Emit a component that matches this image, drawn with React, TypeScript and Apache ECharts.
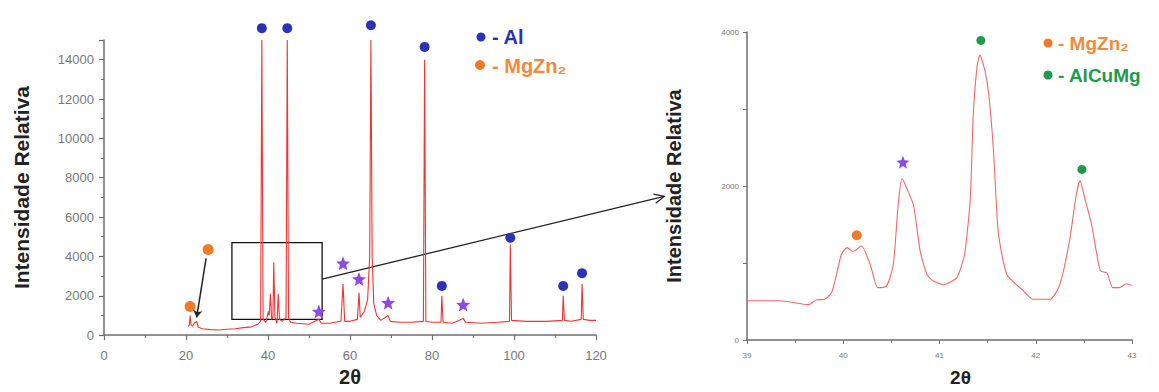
import React, { useEffect, useRef } from "react";
import * as echarts from "echarts";

// ---- Full pattern (left) ----
const leftTheta = [
  20.5, 20.8, 21.0, 21.2, 21.6, 22.0, 22.6, 23.0, 24, 26, 28, 30, 32, 34, 36, 37.5, 38.2, 38.5, 38.8,
  39.5, 40.1, 40.3, 40.6, 40.9, 41.2, 41.4, 41.7, 42.2, 42.5, 42.8, 43.5, 44.4, 44.7, 45.0, 45.5,
  47, 50, 52.4, 53, 55, 57.8, 58.3, 58.7, 60, 61.8, 62.2, 62.5, 63.5, 64.3, 64.8, 65.1, 65.4, 65.8,
  66.5, 67.5, 69.3, 69.8, 72, 75, 77.9, 78.2, 78.5, 80, 82.2, 82.4, 82.7, 85, 87.6, 88.2, 92, 96,
  98.9, 99.1, 99.4, 103, 108, 111.8, 112.0, 112.3, 114, 116.4, 116.6, 116.9, 118.5, 120,
];
const leftIntensity = [
  450, 500, 1000, 550, 450, 600, 700, 400, 320, 280, 260, 300, 320, 380, 420, 550, 700, 15000, 800,
  650, 1200, 1000, 2100, 800, 900, 3700, 900, 600, 2100, 800, 700, 900, 15000, 900, 650,
  600, 550, 800, 600, 600, 700, 2600, 700, 700, 800, 2150, 900, 1200, 1800, 4000, 15000, 4000, 1600,
  1000, 750, 1000, 700, 650, 650, 700, 14000, 700, 650, 650, 2000, 650, 600, 850, 650, 600, 650,
  700, 4600, 750, 700, 700, 750, 2000, 750, 700, 800, 2600, 800, 750, 750,
];

const alTheta = [38.5, 44.7, 65.1, 78.2, 82.4, 99.1, 112.0, 116.6];
const alMarkY = [15600, 15600, 15750, 14650, 2500, 4950, 2500, 3150];
const mgTheta = [21.0, 25.4];
const mgMarkY = [1450, 4350];
const starTheta = [52.4, 58.3, 62.2, 69.3, 87.6];
const starMarkY = [1200, 3650, 2850, 1650, 1550];

const boxTheta = [31.2, 53.2];
const boxIntensity = [4700, 800];
const arrowStart = [53.2, 2850]; // on left grid
const arrowEnd = [38.14, 1865]; // in right grid coordinates
const smallArrowFrom = [24.9, 3900];
const smallArrowTo = [22.6, 900];

// ---- Zoomed pattern (right) ----
const zoomTheta = [
  39.0, 39.34, 39.64, 39.72, 39.81, 39.88, 39.93, 39.98, 40.04, 40.10, 40.19, 40.28, 40.36, 40.45,
  40.52, 40.57, 40.61, 40.66, 40.73, 40.80, 40.87, 40.93, 41.04, 41.18, 41.26, 41.32, 41.35, 41.39,
  41.42, 41.47, 41.51, 41.56, 41.61, 41.70, 41.87, 41.97, 42.15, 42.25, 42.35, 42.42, 42.46, 42.51,
  42.58, 42.67, 42.74, 42.80, 42.87, 42.94, 43.0,
];
const zoomIntensity = [
  510, 510, 460, 520, 530, 620, 850, 1110, 1200, 1150, 1220, 980, 680, 700,
  980, 1750, 2100, 1970, 1750, 1150, 850, 770, 720, 810, 1110, 1840, 2910, 3550,
  3700, 3510, 3210, 2480, 1410, 850, 640, 530, 530, 720, 1280, 1880, 2070, 1840,
  1500, 900, 870, 680, 680, 730, 710,
];
const zoomMgTheta = [40.14];
const zoomMgY = [1360];
const zoomStarTheta = [40.62];
const zoomStarY = [2310];
const zoomGreenTheta = [41.43, 42.48];
const zoomGreenY = [3890, 2215];

const yTitle = "Intensidade Relativa";
const xTitle = "2θ";

const STAR =
  "path://M12,1 L14.9,8.6 L23,9.2 L16.8,14.3 L18.8,22.2 L12,17.8 L5.2,22.2 L7.2,14.3 L1,9.2 L9.1,8.6 Z";

const zip = (a: number[], b: number[]) => a.map((v, i) => [v, b[i]]);

const axisColor = "#6e6e6e";
const FONT = "Liberation Sans";
const BLUE = "#2b32b8";
const ORANGE = "#f07a26";
const GREEN = "#1f9a4c";
const PURPLE = "#8a4be6";

export default function App() {
  const ref = useRef<HTMLDivElement>(null);
  useEffect(() => {
    document.body.style.margin = "0";
    const chart = echarts.init(ref.current!, null, { renderer: "svg" });
    const baseAxis = {
      type: "value",
      splitLine: { show: false },
      axisLine: { show: true, onZero: false, lineStyle: { color: axisColor, width: 1.5 } },
    };
    const plain = (v: number) => String(v);
    const option: any = {
      animation: false,
      backgroundColor: "#ffffff",
      grid: [
        { left: 104, right: 563, top: 40, bottom: 52 },
        { left: 747, right: 27, top: 32, bottom: 49 },
      ],
      xAxis: [
        {
          ...baseAxis,
          gridIndex: 0,
          min: 0,
          max: 120,
          interval: 20,
          axisTick: { show: true, length: 5, lineStyle: { color: axisColor, width: 1.2 } },
          minorTick: { show: true, splitNumber: 2, length: 3, lineStyle: { color: axisColor } },
          axisLabel: { color: "#777", fontSize: 13, margin: 14, fontFamily: FONT, formatter: plain },
          name: xTitle,
          nameLocation: "middle",
          nameGap: 29,
          nameTextStyle: { fontWeight: "bold", fontSize: 20, color: "#222", fontFamily: FONT },
        },
        {
          ...baseAxis,
          gridIndex: 1,
          min: 39,
          max: 43,
          interval: 1,
          axisTick: { show: true, length: 4, lineStyle: { color: axisColor } },
          minorTick: { show: true, splitNumber: 2, length: 3, lineStyle: { color: axisColor } },
          axisLabel: { color: "#777", fontSize: 8, margin: 11, fontFamily: FONT, formatter: plain },
          name: xTitle,
          nameLocation: "middle",
          nameGap: 28,
          nameTextStyle: { fontWeight: "bold", fontSize: 19, color: "#222", fontFamily: FONT, padding: [0, 0, 0, 42] },
        },
      ],
      yAxis: [
        {
          ...baseAxis,
          gridIndex: 0,
          min: 0,
          max: 15000,
          interval: 2000,
          axisTick: { show: true, length: 5, lineStyle: { color: axisColor, width: 1.2 } },
          minorTick: { show: true, splitNumber: 2, length: 3, lineStyle: { color: axisColor } },
          axisLabel: { color: "#777", fontSize: 13, margin: 10, fontFamily: FONT, showMaxLabel: false, formatter: plain },
          name: yTitle,
          nameLocation: "middle",
          nameGap: 72,
          nameTextStyle: { fontWeight: "bold", fontSize: 21, color: "#222", fontFamily: FONT },
        },
        {
          ...baseAxis,
          gridIndex: 1,
          min: 0,
          max: 4000,
          interval: 1000,
          axisTick: { show: true, length: 4, lineStyle: { color: axisColor } },
          axisLabel: {
            color: "#777",
            fontSize: 8,
            margin: 8,
            fontFamily: FONT,
            formatter: (v: number) => (v % 2000 === 0 ? String(v) : ""),
          },
          name: yTitle,
          nameLocation: "middle",
          nameGap: 63,
          nameTextStyle: { fontWeight: "bold", fontSize: 20, color: "#222", fontFamily: FONT, padding: [0, 0, 0, 0] },
        },
      ],
      series: [
        {
          type: "line",
          xAxisIndex: 0,
          yAxisIndex: 0,
          data: zip(leftTheta, leftIntensity),
          showSymbol: false,
          clip: false,
          lineStyle: { color: "#ee3535", width: 1.1 },
          markArea: {
            silent: true,
            label: { show: false },
            itemStyle: { color: "rgba(0,0,0,0)", borderColor: "#111", borderWidth: 1.3 },
            data: [[{ coord: [boxTheta[0], boxIntensity[0]] }, { coord: [boxTheta[1], boxIntensity[1]] }]],
          },
          markLine: {
            silent: true,
            symbol: ["none", "arrow"],
            symbolSize: 7,
            label: { show: false },
            lineStyle: { color: "#222", width: 1.5, type: "solid" },
            data: [[{ coord: smallArrowFrom }, { coord: smallArrowTo }]],
          },
        },
        {
          type: "scatter",
          xAxisIndex: 0,
          yAxisIndex: 0,
          clip: false,
          symbol: "circle",
          symbolSize: 10,
          itemStyle: { color: BLUE, opacity: 1 },
          data: zip(alTheta, alMarkY),
        },
        {
          type: "scatter",
          xAxisIndex: 0,
          yAxisIndex: 0,
          clip: false,
          symbol: "circle",
          symbolSize: 11,
          itemStyle: { color: ORANGE, opacity: 1 },
          data: zip(mgTheta, mgMarkY),
        },
        {
          type: "scatter",
          xAxisIndex: 0,
          yAxisIndex: 0,
          clip: false,
          symbol: STAR,
          symbolSize: 14,
          itemStyle: { color: PURPLE, opacity: 1 },
          data: zip(starTheta, starMarkY),
        },
        {
          type: "line",
          xAxisIndex: 1,
          yAxisIndex: 1,
          data: zip(zoomTheta, zoomIntensity),
          showSymbol: false,
          smooth: 0.2,
          lineStyle: { color: "#f06868", width: 1.1 },
        },
        {
          type: "scatter",
          xAxisIndex: 1,
          yAxisIndex: 1,
          clip: false,
          symbol: "circle",
          symbolSize: 10,
          itemStyle: { color: ORANGE, opacity: 1 },
          data: zip(zoomMgTheta, zoomMgY),
        },
        {
          type: "scatter",
          xAxisIndex: 1,
          yAxisIndex: 1,
          clip: false,
          symbol: STAR,
          symbolSize: 13,
          itemStyle: { color: PURPLE, opacity: 1 },
          data: zip(zoomStarTheta, zoomStarY),
        },
        {
          type: "scatter",
          xAxisIndex: 1,
          yAxisIndex: 1,
          clip: false,
          symbol: "circle",
          symbolSize: 9,
          itemStyle: { color: GREEN, opacity: 1 },
          data: zip(zoomGreenTheta, zoomGreenY),
        },
      ],
    };
    chart.setOption(option);

    const p0 = chart.convertToPixel({ gridIndex: 0 }, arrowStart) as number[];
    const p1 = chart.convertToPixel({ gridIndex: 1 }, arrowEnd) as number[];
    const ang = Math.atan2(p1[1] - p0[1], p1[0] - p0[0]);
    const L = 11;
    const a = Math.PI / 7;
    const h1 = [p1[0] - L * Math.cos(ang - a), p1[1] - L * Math.sin(ang - a)];
    const h2 = [p1[0] - L * Math.cos(ang + a), p1[1] - L * Math.sin(ang + a)];

    const legendText = (x: number, y: number, text: string, color: string, size: number) => ({
      type: "text",
      x,
      y,
      style: { text, fill: color, font: `bold ${size}px "${FONT}"`, textVerticalAlign: "middle" },
    });
    const dot = (cx: number, cy: number, r: number, color: string) => ({
      type: "circle",
      shape: { cx, cy, r },
      style: { fill: color },
    });

    chart.setOption({
      graphic: [
        {
          type: "line",
          shape: { x1: p0[0], y1: p0[1], x2: p1[0], y2: p1[1] },
          style: { stroke: "#222", lineWidth: 1.3 },
        },
        {
          type: "polyline",
          shape: { points: [h1, p1, h2] },
          style: { stroke: "#222", lineWidth: 1.3, fill: null },
        },
        dot(481, 37, 4.5, BLUE),
        legendText(492, 37, "- Al", BLUE, 20),
        dot(480, 65, 5, ORANGE),
        legendText(492, 66, "- MgZn₂", "#f08a3c", 20),
        dot(1048, 43, 4.5, ORANGE),
        legendText(1058, 43, "- MgZn₂", "#f08a3c", 19),
        dot(1048, 75, 4.5, GREEN),
        legendText(1058, 75, "- AlCuMg", GREEN, 19),
      ],
    });

    return () => chart.dispose();
  }, []);
  return <div ref={ref} style={{ width: 1159, height: 392 }} />;
}
